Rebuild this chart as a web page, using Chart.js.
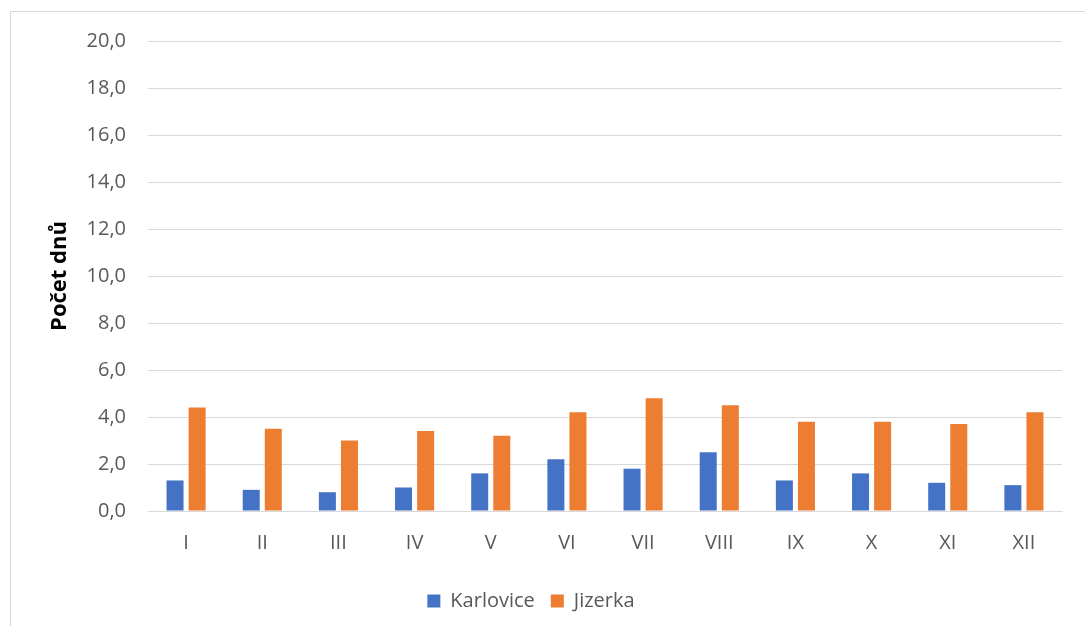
<!DOCTYPE html>
<html>
<head>
<meta charset="utf-8">
<script src="https://cdn.jsdelivr.net/npm/chart.js@4"></script>
<style>
  body { margin: 0; background: #fff; }
  #frame {
    position: absolute; left: 10px; top: 11px;
    width: 1090px; height: 630px;
    border: 1px solid #d9d9d9;
  }
  #wrap { position: absolute; left: 0; top: 0; width: 1085px; height: 626px; }
</style>
</head>
<body>
<div id="frame"></div>
<div id="wrap"><canvas id="aChart"></canvas></div>
<script>
let months = ["I", "II", "III", "IV", "V", "VI", "VII", "VIII", "IX", "X", "XI", "XII"]
let karlovice = [1.3, 0.9, 0.8, 1.0, 1.6, 2.2, 1.8, 2.5, 1.3, 1.6, 1.2, 1.1]
let jizerka = [4.4, 3.5, 3.0, 3.4, 3.2, 4.2, 4.8, 4.5, 3.8, 3.8, 3.7, 4.2]
let yMax = 20
let yStep = 2

let textColor = "#595959"
let fontFamily = "'Open Sans'"

let aChart = new Chart(document.getElementById("aChart"), {
  type: "bar",
  data: {
    labels: months,
    datasets: [
      {
        label: "Karlovice",
        data: karlovice,
        backgroundColor: "#4472C4",
        categoryPercentage: 0.58,
        barPercentage: 0.77,
      },
      {
        label: "Jizerka",
        data: jizerka,
        backgroundColor: "#ED7D31",
        categoryPercentage: 0.58,
        barPercentage: 0.77,
      },
    ],
  },
  options: {
    responsive: true,
    maintainAspectRatio: false,
    animation: false,
    layout: {
      padding: { left: 0, right: 23, top: 41, bottom: 5 },
    },
    plugins: {
      tooltip: { enabled: false },
      legend: {
        position: "bottom",
        labels: {
          color: textColor,
          font: { family: fontFamily, size: 20 },
          boxWidth: 13,
          boxHeight: 13,
          padding: 16,
        },
      },
    },
    scales: {
      x: {
        grid: { display: false, drawTicks: false },
        border: { color: "#d9d9d9", width: 1 },
        ticks: {
          color: textColor,
          font: { family: fontFamily, size: 20 },
          padding: 20,
        },
      },
      y: {
        min: 0,
        max: yMax,
        grid: { color: "#d9d9d9", drawTicks: false },
        border: { display: false },
        ticks: {
          stepSize: yStep,
          color: textColor,
          font: { family: fontFamily, size: 20 },
          padding: 22,
          callback: (v) => v.toFixed(1).replace(".", ","),
        },
        title: {
          display: true,
          text: "Počet dnů",
          color: "#000",
          font: { family: fontFamily, size: 22, weight: "bold" },
          padding: { top: 47, bottom: 0 },
        },
        afterFit: (scale) => { scale.width = 148 },
      },
    },
  },
});
</script>
</body>
</html>
